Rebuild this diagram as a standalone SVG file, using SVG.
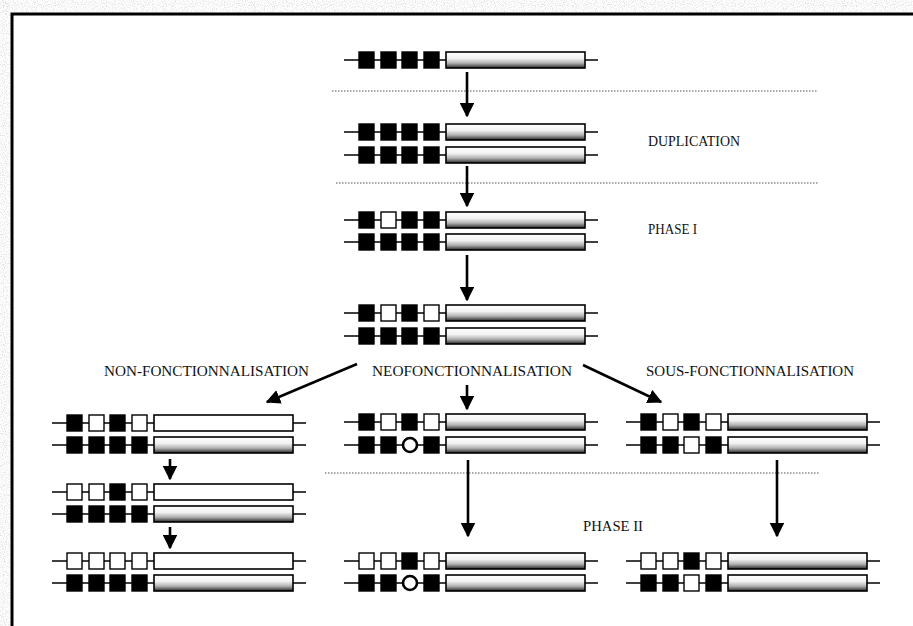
<svg xmlns="http://www.w3.org/2000/svg" width="913" height="626" viewBox="0 0 913 626">
<style>
.ln{stroke:#000;stroke-width:1.6;fill:none}
.bx{fill:#000;stroke:#000;stroke-width:1.4}
.wx{fill:#fff;stroke:#000;stroke-width:1.4}
.cr{fill:#fff;stroke:#000;stroke-width:2.6}
.lg{fill:url(#grad);stroke:#000;stroke-width:1.6}
.lw{fill:#fff;stroke:#000;stroke-width:1.6}
.arr{stroke:#000;stroke-width:2.6;fill:none;marker-end:url(#ah)}
.dot{stroke:#555;stroke-width:1;stroke-dasharray:1.5 1.5;fill:none}
.t{font-family:"Liberation Serif","Times New Roman",serif;font-size:14px;fill:#111}
</style>
<defs>
<linearGradient id="grad" x1="0" y1="0" x2="0" y2="1">
<stop offset="0" stop-color="#fff"/>
<stop offset="0.4" stop-color="#f2f2f2"/>
<stop offset="0.7" stop-color="#b0b0b0"/>
<stop offset="0.9" stop-color="#555"/>
<stop offset="1" stop-color="#1a1a1a"/>
</linearGradient>
<marker id="ah" viewBox="0 0 10 10" refX="9" refY="5" markerWidth="5.6" markerHeight="5.6" orient="auto" markerUnits="strokeWidth">
<path d="M0,0 L10,5 L0,10 Z" fill="#000"/>
</marker>
<filter id="noise" x="0" y="0" width="100%" height="100%">
<feTurbulence type="fractalNoise" baseFrequency="0.9" numOctaves="1" seed="3"/>
<feColorMatrix type="matrix" values="0 0 0 0 0.65  0 0 0 0 0.65  0 0 0 0 0.65  0 0 0 -2.4 1.3"/>
</filter>
</defs>
<rect width="913" height="626" fill="#fff"/>
<g id="scan-edge">
<rect x="0" y="0" width="913" height="12" filter="url(#noise)"/>
<rect x="0" y="0" width="10" height="626" filter="url(#noise)"/>
<path d="M12,626 L12,14 L913,14" stroke="#000" stroke-width="3" fill="none"/>
</g>
<g id="separators">
<line class="dot" x1="332" y1="91" x2="818" y2="91"/>
<line class="dot" x1="336" y1="183" x2="818" y2="183"/>
<line class="dot" x1="325" y1="473" x2="820" y2="473"/>
</g>
<g id="labels">
<text class="t" x="648" y="146" textLength="92" lengthAdjust="spacingAndGlyphs">DUPLICATION</text>
<text class="t" x="648" y="234" textLength="49" lengthAdjust="spacingAndGlyphs">PHASE I</text>
<text class="t" x="104" y="376" textLength="205" lengthAdjust="spacingAndGlyphs">NON-FONCTIONNALISATION</text>
<text class="t" x="372" y="376" textLength="200" lengthAdjust="spacingAndGlyphs">NEOFONCTIONNALISATION</text>
<text class="t" x="646" y="376" textLength="208" lengthAdjust="spacingAndGlyphs">SOUS-FONCTIONNALISATION</text>
<text class="t" x="583" y="531" textLength="60" lengthAdjust="spacingAndGlyphs">PHASE II</text>
</g>
<g id="connectors">
<line class="arr" x1="467" y1="72" x2="467" y2="116"/>
<line class="arr" x1="467" y1="166" x2="467" y2="206"/>
<line class="arr" x1="467" y1="255" x2="467" y2="300"/>
<line class="arr" x1="357" y1="364" x2="267" y2="402"/>
<line class="arr" x1="467" y1="385" x2="467" y2="409"/>
<line class="arr" x1="583" y1="365" x2="661" y2="402"/>
<line class="arr" x1="170" y1="459" x2="170" y2="479"/>
<line class="arr" x1="170" y1="527" x2="170" y2="548"/>
<line class="arr" x1="468" y1="460" x2="468" y2="536"/>
<line class="arr" x1="777" y1="460" x2="777" y2="536"/>
</g>
<g id="gene-ancestral" transform="translate(344,52)">
<line class="ln" x1="0" y1="8" x2="254" y2="8"/>
<rect class="bx" x="15" y="0" width="15" height="16"/><rect class="bx" x="37" y="0" width="15" height="16"/><rect class="bx" x="58" y="0" width="15" height="16"/><rect class="bx" x="80" y="0" width="15" height="16"/>
<rect class="lg" x="102" y="0" width="139" height="16"/>
</g>
<g id="dup-1" transform="translate(344,124)">
<line class="ln" x1="0" y1="8" x2="254" y2="8"/>
<rect class="bx" x="15" y="0" width="15" height="16"/><rect class="bx" x="37" y="0" width="15" height="16"/><rect class="bx" x="58" y="0" width="15" height="16"/><rect class="bx" x="80" y="0" width="15" height="16"/>
<rect class="lg" x="102" y="0" width="139" height="16"/>
</g>
<g id="dup-2" transform="translate(344,147)">
<line class="ln" x1="0" y1="8" x2="254" y2="8"/>
<rect class="bx" x="15" y="0" width="15" height="16"/><rect class="bx" x="37" y="0" width="15" height="16"/><rect class="bx" x="58" y="0" width="15" height="16"/><rect class="bx" x="80" y="0" width="15" height="16"/>
<rect class="lg" x="102" y="0" width="139" height="16"/>
</g>
<g id="phase1-1" transform="translate(344,212)">
<line class="ln" x1="0" y1="8" x2="254" y2="8"/>
<rect class="bx" x="15" y="0" width="15" height="16"/><rect class="wx" x="37" y="0" width="15" height="16"/><rect class="bx" x="58" y="0" width="15" height="16"/><rect class="bx" x="80" y="0" width="15" height="16"/>
<rect class="lg" x="102" y="0" width="139" height="16"/>
</g>
<g id="phase1-2" transform="translate(344,234)">
<line class="ln" x1="0" y1="8" x2="254" y2="8"/>
<rect class="bx" x="15" y="0" width="15" height="16"/><rect class="bx" x="37" y="0" width="15" height="16"/><rect class="bx" x="58" y="0" width="15" height="16"/><rect class="bx" x="80" y="0" width="15" height="16"/>
<rect class="lg" x="102" y="0" width="139" height="16"/>
</g>
<g id="phase1b-1" transform="translate(344,305)">
<line class="ln" x1="0" y1="8" x2="254" y2="8"/>
<rect class="bx" x="15" y="0" width="15" height="16"/><rect class="wx" x="37" y="0" width="15" height="16"/><rect class="bx" x="58" y="0" width="15" height="16"/><rect class="wx" x="80" y="0" width="15" height="16"/>
<rect class="lg" x="102" y="0" width="139" height="16"/>
</g>
<g id="phase1b-2" transform="translate(344,328)">
<line class="ln" x1="0" y1="8" x2="254" y2="8"/>
<rect class="bx" x="15" y="0" width="15" height="16"/><rect class="bx" x="37" y="0" width="15" height="16"/><rect class="bx" x="58" y="0" width="15" height="16"/><rect class="bx" x="80" y="0" width="15" height="16"/>
<rect class="lg" x="102" y="0" width="139" height="16"/>
</g>
<g id="non-a1" transform="translate(52,415)">
<line class="ln" x1="0" y1="8" x2="254" y2="8"/>
<rect class="bx" x="15" y="0" width="15" height="16"/><rect class="wx" x="37" y="0" width="15" height="16"/><rect class="bx" x="58" y="0" width="15" height="16"/><rect class="wx" x="80" y="0" width="15" height="16"/>
<rect class="lw" x="102" y="0" width="139" height="16"/>
</g>
<g id="non-a2" transform="translate(52,437)">
<line class="ln" x1="0" y1="8" x2="254" y2="8"/>
<rect class="bx" x="15" y="0" width="15" height="16"/><rect class="bx" x="37" y="0" width="15" height="16"/><rect class="bx" x="58" y="0" width="15" height="16"/><rect class="bx" x="80" y="0" width="15" height="16"/>
<rect class="lg" x="102" y="0" width="139" height="16"/>
</g>
<g id="non-b1" transform="translate(52,484)">
<line class="ln" x1="0" y1="8" x2="254" y2="8"/>
<rect class="wx" x="15" y="0" width="15" height="16"/><rect class="wx" x="37" y="0" width="15" height="16"/><rect class="bx" x="58" y="0" width="15" height="16"/><rect class="wx" x="80" y="0" width="15" height="16"/>
<rect class="lw" x="102" y="0" width="139" height="16"/>
</g>
<g id="non-b2" transform="translate(52,506)">
<line class="ln" x1="0" y1="8" x2="254" y2="8"/>
<rect class="bx" x="15" y="0" width="15" height="16"/><rect class="bx" x="37" y="0" width="15" height="16"/><rect class="bx" x="58" y="0" width="15" height="16"/><rect class="bx" x="80" y="0" width="15" height="16"/>
<rect class="lg" x="102" y="0" width="139" height="16"/>
</g>
<g id="non-c1" transform="translate(52,553)">
<line class="ln" x1="0" y1="8" x2="254" y2="8"/>
<rect class="wx" x="15" y="0" width="15" height="16"/><rect class="wx" x="37" y="0" width="15" height="16"/><rect class="wx" x="58" y="0" width="15" height="16"/><rect class="wx" x="80" y="0" width="15" height="16"/>
<rect class="lw" x="102" y="0" width="139" height="16"/>
</g>
<g id="non-c2" transform="translate(52,575)">
<line class="ln" x1="0" y1="8" x2="254" y2="8"/>
<rect class="bx" x="15" y="0" width="15" height="16"/><rect class="bx" x="37" y="0" width="15" height="16"/><rect class="bx" x="58" y="0" width="15" height="16"/><rect class="bx" x="80" y="0" width="15" height="16"/>
<rect class="lg" x="102" y="0" width="139" height="16"/>
</g>
<g id="neo-a1" transform="translate(344,414)">
<line class="ln" x1="0" y1="8" x2="254" y2="8"/>
<rect class="bx" x="15" y="0" width="15" height="16"/><rect class="wx" x="37" y="0" width="15" height="16"/><rect class="bx" x="58" y="0" width="15" height="16"/><rect class="wx" x="80" y="0" width="15" height="16"/>
<rect class="lg" x="102" y="0" width="139" height="16"/>
</g>
<g id="neo-a2" transform="translate(344,437)">
<line class="ln" x1="0" y1="8" x2="254" y2="8"/>
<rect class="bx" x="15" y="0" width="15" height="16"/><rect class="bx" x="37" y="0" width="15" height="16"/><circle class="cr" cx="66" cy="8" r="7"/><rect class="bx" x="80" y="0" width="15" height="16"/>
<rect class="lg" x="102" y="0" width="139" height="16"/>
</g>
<g id="neo-b1" transform="translate(344,553)">
<line class="ln" x1="0" y1="8" x2="254" y2="8"/>
<rect class="wx" x="15" y="0" width="15" height="16"/><rect class="wx" x="37" y="0" width="15" height="16"/><rect class="bx" x="58" y="0" width="15" height="16"/><rect class="wx" x="80" y="0" width="15" height="16"/>
<rect class="lg" x="102" y="0" width="139" height="16"/>
</g>
<g id="neo-b2" transform="translate(344,575)">
<line class="ln" x1="0" y1="8" x2="254" y2="8"/>
<rect class="bx" x="15" y="0" width="15" height="16"/><rect class="bx" x="37" y="0" width="15" height="16"/><circle class="cr" cx="66" cy="8" r="7"/><rect class="bx" x="80" y="0" width="15" height="16"/>
<rect class="lg" x="102" y="0" width="139" height="16"/>
</g>
<g id="sous-a1" transform="translate(626,414)">
<line class="ln" x1="0" y1="8" x2="254" y2="8"/>
<rect class="bx" x="15" y="0" width="15" height="16"/><rect class="wx" x="37" y="0" width="15" height="16"/><rect class="bx" x="58" y="0" width="15" height="16"/><rect class="wx" x="80" y="0" width="15" height="16"/>
<rect class="lg" x="102" y="0" width="139" height="16"/>
</g>
<g id="sous-a2" transform="translate(626,437)">
<line class="ln" x1="0" y1="8" x2="254" y2="8"/>
<rect class="bx" x="15" y="0" width="15" height="16"/><rect class="bx" x="37" y="0" width="15" height="16"/><rect class="wx" x="58" y="0" width="15" height="16"/><rect class="bx" x="80" y="0" width="15" height="16"/>
<rect class="lg" x="102" y="0" width="139" height="16"/>
</g>
<g id="sous-b1" transform="translate(626,553)">
<line class="ln" x1="0" y1="8" x2="254" y2="8"/>
<rect class="wx" x="15" y="0" width="15" height="16"/><rect class="wx" x="37" y="0" width="15" height="16"/><rect class="bx" x="58" y="0" width="15" height="16"/><rect class="wx" x="80" y="0" width="15" height="16"/>
<rect class="lg" x="102" y="0" width="139" height="16"/>
</g>
<g id="sous-b2" transform="translate(626,575)">
<line class="ln" x1="0" y1="8" x2="254" y2="8"/>
<rect class="bx" x="15" y="0" width="15" height="16"/><rect class="bx" x="37" y="0" width="15" height="16"/><rect class="wx" x="58" y="0" width="15" height="16"/><rect class="bx" x="80" y="0" width="15" height="16"/>
<rect class="lg" x="102" y="0" width="139" height="16"/>
</g>
</svg>
